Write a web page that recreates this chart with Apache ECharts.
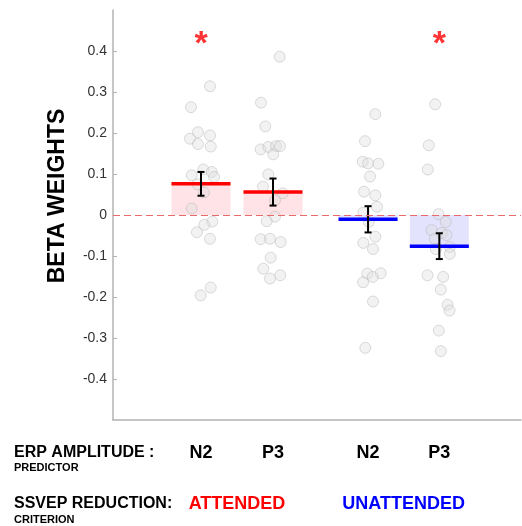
<!DOCTYPE html>
<html><head><meta charset="utf-8">
<script src="https://cdn.jsdelivr.net/npm/echarts@6/dist/echarts.min.js"></script>
<style>html,body{margin:0;padding:0;background:#fff}#c{width:522px;height:526px}</style>
</head><body><div id="c"></div>
<script>
// ---------- data ----------
const groupNames = ['N2', 'P3', 'N2', 'P3'];
const groupPositions = [1, 2, 3.32, 4.31];
const criterionNames = ['ATTENDED', 'UNATTENDED'];
const criterionGroups = [[0, 1], [2, 3]];
const means = [0.076, 0.056, -0.0105, -0.076];
const sems = [0.029, 0.033, 0.032, 0.0315];
const significant = [true, false, false, true];
const sigMarkValue = 0.43;
const yTicks = [-0.4, -0.3, -0.2, -0.1, 0, 0.1, 0.2, 0.3, 0.4];

const attN2Values = [0.314, 0.263, 0.202, 0.186, 0.194, 0.173, 0.167, 0.111, 0.105, 0.097, 0.093, 0.075, 0.055, 0.016, -0.016, -0.024, -0.042, -0.058, -0.177, -0.196];
const attN2Jitter = [0.125, -0.139, -0.042, -0.153, 0.125, -0.042, 0.135, 0.032, 0.149, -0.129, 0.181, -0.051, 0.042, -0.129, 0.157, 0.046, -0.056, 0.125, 0.135, -0.004];
const attP3Values = [0.386, 0.274, 0.216, 0.160, 0.166, 0.168, 0.168, 0.148, 0.099, 0.069, 0.053, 0.036, -0.004, -0.015, -0.059, -0.058, -0.066, -0.104, -0.131, -0.147, -0.155];
const attP3Jitter = [0.093, -0.167, -0.107, -0.171, -0.065, 0.042, 0.097, 0.004, -0.065, -0.139, 0.135, 0.028, 0.028, -0.088, -0.171, -0.042, 0.107, -0.032, -0.135, 0.101, -0.042];
const unN2Values = [0.246, 0.180, 0.130, 0.126, 0.125, 0.094, 0.057, 0.048, 0.020, 0.006, -0.017, -0.053, -0.068, -0.083, -0.143, -0.142, -0.151, -0.164, -0.211, -0.324];
const unN2Jitter = [0.101, -0.042, -0.074, 0, 0.143, 0.028, -0.056, 0.101, 0.125, -0.065, 0.01, 0.101, -0.065, 0.069, -0.01, 0.176, 0.065, -0.069, 0.069, -0.038];
const unP3Values = [0.270, 0.170, 0.111, 0.002, -0.017, -0.037, -0.044, -0.049, -0.058, -0.078, -0.083, -0.095, -0.147, -0.151, -0.182, -0.219, -0.233, -0.282, -0.332];
const unP3Jitter = [-0.058, -0.146, -0.160, -0.011, 0.090, -0.108, 0.031, 0.100, -0.063, 0.146, -0.049, 0.146, -0.164, 0.053, 0.021, 0.114, 0.142, -0.007, 0.021];

const dotValues = [attN2Values, attP3Values, unN2Values, unP3Values];
const dotJitter = [attN2Jitter, attP3Jitter, unN2Jitter, unP3Jitter];

// ---------- styles ----------
const FONT = '"Liberation Sans", Arial, Helvetica, sans-serif';
const lineColors = ['#ff0000', '#ff0000', '#0000ff', '#0000ff'];
const fillColors = ['#ffe3e6', '#ffe3e6', '#e3e3fd', '#e3e3fd'];
const critColors = ['#ff0000', '#0000ff'];
const barHalf = 0.41;

const chart = echarts.init(document.getElementById('c'), null, {renderer: 'canvas'});

const dotData = [];
dotValues.forEach((arr, g) => arr.forEach((v, i) => dotData.push([groupPositions[g] + dotJitter[g][i], v])));
const barData = groupPositions.map((x, i) => [x, means[i]]);
const errData = groupPositions.map((x, i) => [x, means[i] - sems[i], means[i] + sems[i]]);
const sigData = groupPositions.map((x, i) => significant[i] ? [x, sigMarkValue] : null).filter(Boolean);

const option = {
  animation: false,
  grid: {left: 113, right: 1, top: 10, bottom: 106},
  xAxis: {
    type: 'value', min: -0.2222, max: 5.4444,
    axisLine: {show: true, onZero: false, lineStyle: {color: '#b3b3b3', width: 1.5}},
    axisTick: {show: false},
    splitLine: {show: false},
    axisLabel: {
      customValues: groupPositions,
      formatter: v => groupNames[groupPositions.indexOf(v)] || '',
      margin: 24, fontSize: 18, fontWeight: 'bold', color: '#000', fontFamily: FONT, lineHeight: 18
    }
  },
  yAxis: {
    type: 'value', min: -0.5, max: 0.5,
    axisLine: {show: true, onZero: false, lineStyle: {color: '#b3b3b3', width: 1.5}},
    axisTick: {show: true, customValues: yTicks, inside: true, length: 4, lineStyle: {color: '#b3b3b3'}},
    splitLine: {show: false},
    axisLabel: {
      customValues: yTicks,
      formatter: v => String(Math.round(v * 10) / 10),
      margin: 6, fontSize: 14, color: '#333', fontFamily: FONT
    }
  },
  series: [
    {
      type: 'custom', z: 1, data: barData,
      renderItem: (params, api) => {
        const x = api.value(0), m = api.value(1);
        const p0 = api.coord([x - barHalf, 0]);
        const p1 = api.coord([x + barHalf, m]);
        return {type: 'rect', shape: {x: p0[0], y: Math.min(p0[1], p1[1]), width: p1[0] - p0[0], height: Math.abs(p1[1] - p0[1])},
          style: {fill: fillColors[params.dataIndex]}};
      },
      markLine: {
        silent: true, symbol: 'none', label: {show: false},
        lineStyle: {color: '#e86a6a', type: [7, 4], width: 1},
        data: [{yAxis: 0}]
      }
    },
    {
      type: 'scatter', z: 2, data: dotData, symbolSize: 11,
      itemStyle: {color: 'rgba(222,222,222,0.5)', borderColor: 'rgba(175,175,175,0.55)', borderWidth: 1},
      silent: true
    },
    {
      type: 'custom', z: 3, data: barData,
      renderItem: (params, api) => {
        const x = api.value(0), m = api.value(1);
        const a = api.coord([x - barHalf, m]);
        const b = api.coord([x + barHalf, m]);
        return {type: 'line', shape: {x1: a[0], y1: a[1], x2: b[0], y2: b[1]},
          style: {stroke: lineColors[params.dataIndex], lineWidth: 3.5}};
      }
    },
    {
      type: 'custom', z: 4, data: errData,
      renderItem: (params, api) => {
        const x = api.value(0);
        const lo = api.coord([x, api.value(1)]);
        const hi = api.coord([x, api.value(2)]);
        const cap = 3.5;
        const st = {stroke: '#000', lineWidth: 2};
        return {type: 'group', children: [
          {type: 'line', shape: {x1: lo[0], y1: lo[1], x2: hi[0], y2: hi[1]}, style: st},
          {type: 'line', shape: {x1: lo[0] - cap, y1: lo[1], x2: lo[0] + cap, y2: lo[1]}, style: st},
          {type: 'line', shape: {x1: hi[0] - cap, y1: hi[1], x2: hi[0] + cap, y2: hi[1]}, style: st}
        ]};
      }
    },
    {
      type: 'scatter', z: 5, data: sigData, symbolSize: 1, itemStyle: {color: 'rgba(0,0,0,0)'}, silent: true,
      label: {show: true, position: 'inside', formatter: '*', color: '#ff0000', fontSize: 34, fontWeight: 'bold', fontFamily: FONT, offset: [0, 6]}
    }
  ]
};
chart.setOption(option);

const critGraphics = criterionNames.map((name, k) => {
  const g = criterionGroups[k];
  const mid = (groupPositions[g[0]] + groupPositions[g[g.length - 1]]) / 2;
  const px = chart.convertToPixel({xAxisIndex: 0}, mid);
  return {type: 'text', x: px, y: 504, style: {text: name, fill: critColors[k], font: 'bold 18px ' + FONT, textAlign: 'center', textVerticalAlign: 'middle'}};
});

chart.setOption({graphic: [
  {type: 'text', x: 58, y: 196, rotation: Math.PI / 2, style: {text: 'BETA WEIGHTS', fill: '#000', font: 'bold 23px ' + FONT, textAlign: 'center', textVerticalAlign: 'middle'}},
  {type: 'text', x: 14, y: 452.5, style: {text: 'ERP AMPLITUDE :', fill: '#000', font: 'bold 16px ' + FONT, textAlign: 'left', textVerticalAlign: 'middle'}},
  {type: 'text', x: 14, y: 467.5, style: {text: 'PREDICTOR', fill: '#000', font: 'bold 11px ' + FONT, textAlign: 'left', textVerticalAlign: 'middle'}},
  {type: 'text', x: 14, y: 504, style: {text: 'SSVEP REDUCTION:', fill: '#000', font: 'bold 16px ' + FONT, textAlign: 'left', textVerticalAlign: 'middle'}},
  {type: 'text', x: 14, y: 519.5, style: {text: 'CRITERION', fill: '#000', font: 'bold 11px ' + FONT, textAlign: 'left', textVerticalAlign: 'middle'}}
].concat(critGraphics)});
</script>
</body></html>
